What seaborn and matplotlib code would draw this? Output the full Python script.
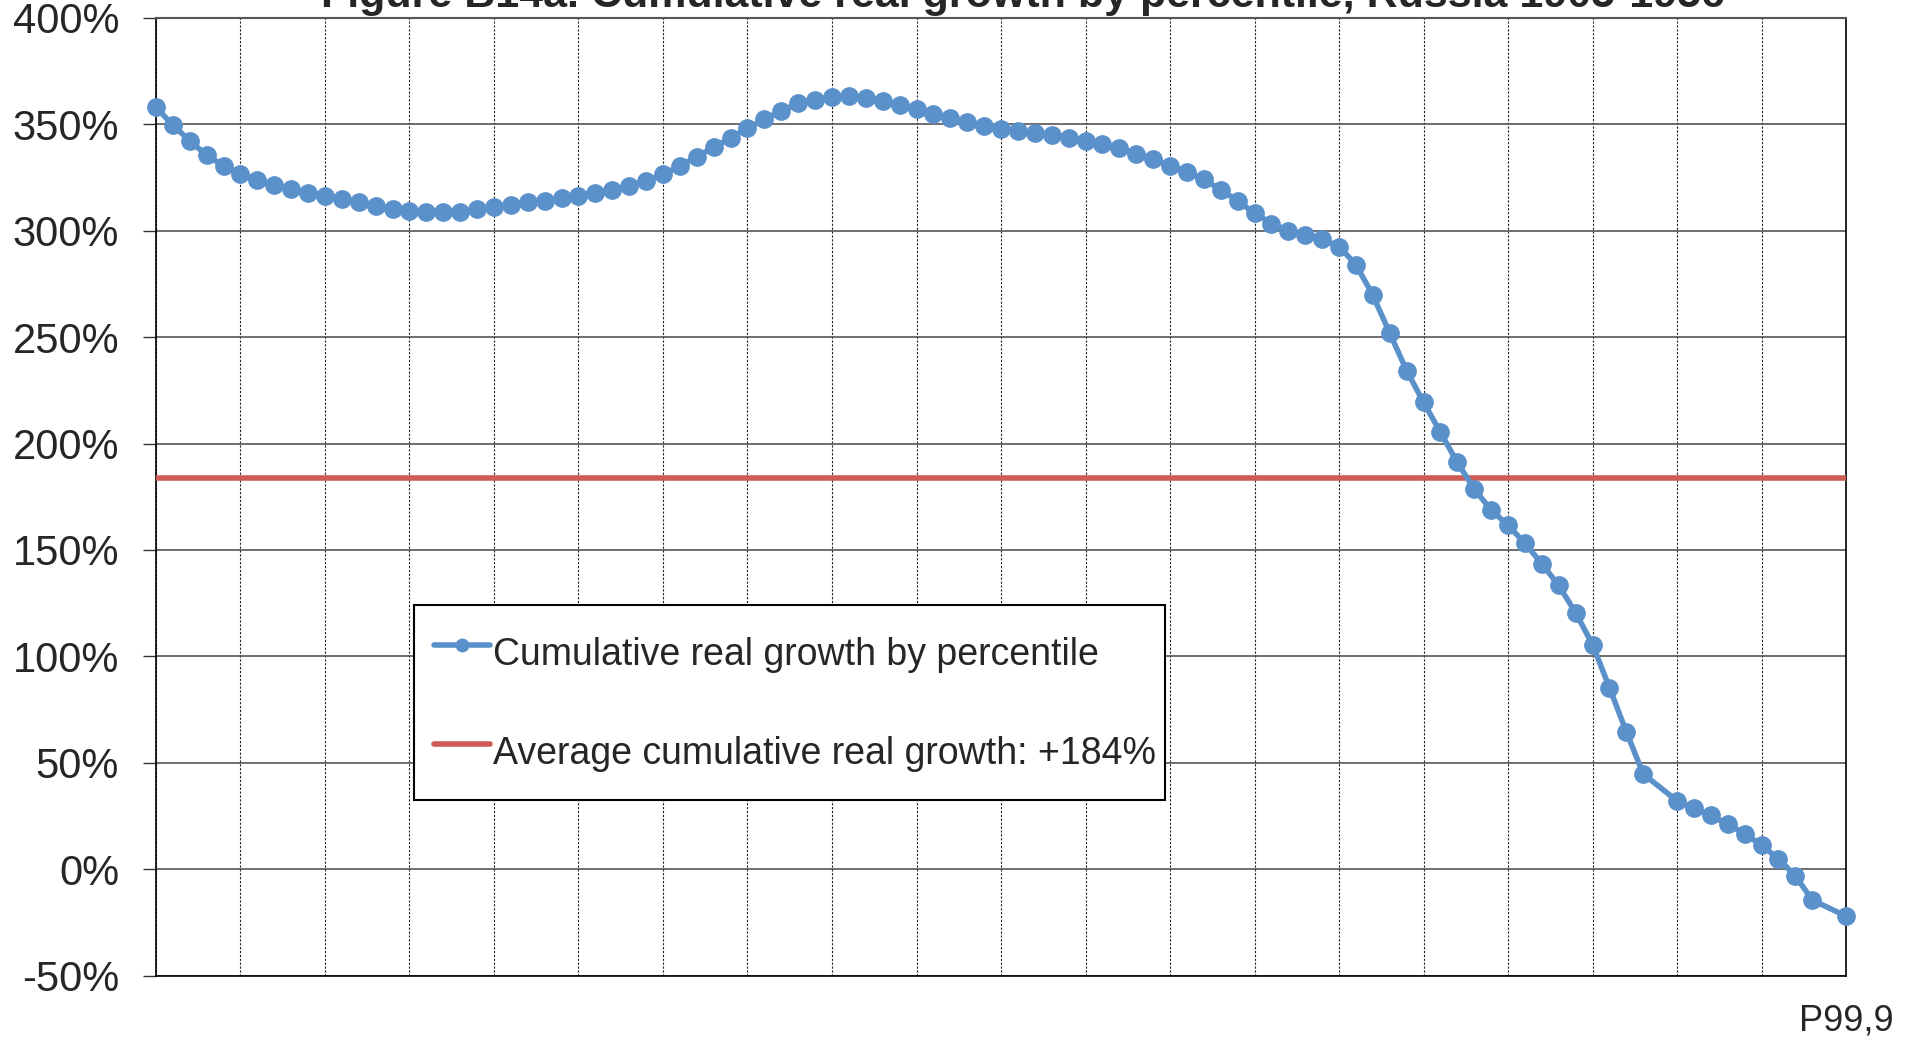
import numpy as np
import pandas as pd
import seaborn as sns
import matplotlib
matplotlib.use("Agg")
import matplotlib.pyplot as plt

# category positions along the percentile axis (89 and 99 are blank cells)
positions = list(range(101))
growth = [
    358.0, 349.7, 342.2, 335.6, 330.4, 326.6, 323.8, 321.5, 319.6, 317.6,
    316.3, 314.9, 313.3, 311.8, 310.0, 309.3, 308.8, 308.8, 308.9, 310.0,
    311.0, 312.1, 313.3, 314.1, 315.2, 316.5, 317.6, 319.1, 321.0, 323.4,
    326.6, 330.4, 334.8, 339.2, 343.7, 348.1, 352.5, 356.3, 359.9, 361.5,
    362.7, 363.4, 362.6, 361.2, 359.1, 357.1, 354.7, 352.8, 350.9, 349.2,
    347.6, 346.9, 345.8, 345.0, 343.7, 342.1, 340.7, 338.7, 336.3, 333.7,
    330.5, 327.7, 324.1, 319.3, 314.0, 308.3, 303.4, 300.1, 298.0, 296.0,
    292.6, 284.1, 269.7, 251.9, 234.3, 219.4, 205.3, 191.1, 178.6, 168.8,
    161.6, 153.1, 143.5, 133.3, 120.5, 105.5, 85.3, 64.5, 44.7, np.nan,
    32.1, 28.6, 25.3, 21.0, 16.7, 11.2, 4.9, -3.2, -14.5, np.nan,
    -22.1,
]
avg_growth = 184

grid_positions = list(range(0, 101, 5))
x_tick_labels = [""] * 20 + ["P99,9"]
y_ticks = list(range(-50, 401, 50))
y_tick_labels = [f"{v}%" for v in y_ticks]

series_label = "Cumulative real growth by percentile"
avg_label = f"Average cumulative real growth: +{avg_growth}%"
title = "Figure B14a. Cumulative real growth by percentile, Russia 1905-1956"

blue = "#5A91CB"
red = "#CD5C57"

sns.set_style("white")
plt.rcParams["font.family"] = ["Liberation Sans", "DejaVu Sans"]

df = pd.DataFrame({"position": positions, "growth": growth}).dropna()

fig = plt.figure(figsize=(19.16, 10.40), dpi=100)
ax = fig.add_axes([0.0814, 0.062, 0.8821, 0.9207])

sns.lineplot(
    data=df,
    x="position",
    y="growth",
    ax=ax,
    color=blue,
    linewidth=4,
    marker="o",
    markersize=13.5,
    markeredgewidth=0,
    label=series_label,
    zorder=4,
)
ax.lines[-1].set_clip_on(False)
ax.axhline(avg_growth, color=red, linewidth=4, label=avg_label, zorder=3)

ax.set_xlim(0, 100)
ax.set_ylim(-50, 400)
ax.set_yticks(y_ticks)
ax.set_yticklabels(y_tick_labels, fontsize=30)
ax.set_xticks(grid_positions)
ax.set_xticklabels(x_tick_labels, fontsize=26)
ax.tick_params(axis="x", length=0, pad=20)
ax.tick_params(axis="y", length=9.5, width=1, color="#333333", pad=17, direction="out", left=True)
ax.set_xlabel("")
ax.set_ylabel("")

ax.grid(axis="y", color="#555555", linewidth=1.2, linestyle="-")
ax.grid(axis="x", color="#222222", linewidth=0.8, linestyle=(0, (2, 1.5)))
ax.set_axisbelow(True)

for side in ["left", "bottom", "right"]:
    ax.spines[side].set_color("black")
    ax.spines[side].set_linewidth(1.2)
ax.spines["top"].set_color("#555555")
ax.spines["top"].set_linewidth(1.5)

leg = ax.legend(
    loc="upper left",
    bbox_to_anchor=(0.1527, 0.180, 0.4444, 0.207),
    mode="expand",
    fontsize=27,
    frameon=True,
    fancybox=False,
    edgecolor="black",
    framealpha=1,
    borderaxespad=0,
    borderpad=0.52,
    labelspacing=1.12,
    handleheight=1.97,
    handlelength=1.5,
    handletextpad=0.08,
    numpoints=1,
)
leg.get_frame().set_linewidth(1.5)
for h in leg.legend_handles:
    h.set_markersize(10)

fig.text(0.534, 1 - 7 / 1040, title, ha="center", va="baseline",
         fontsize=31, fontweight="bold")

fig.savefig("out.png", dpi=100)
